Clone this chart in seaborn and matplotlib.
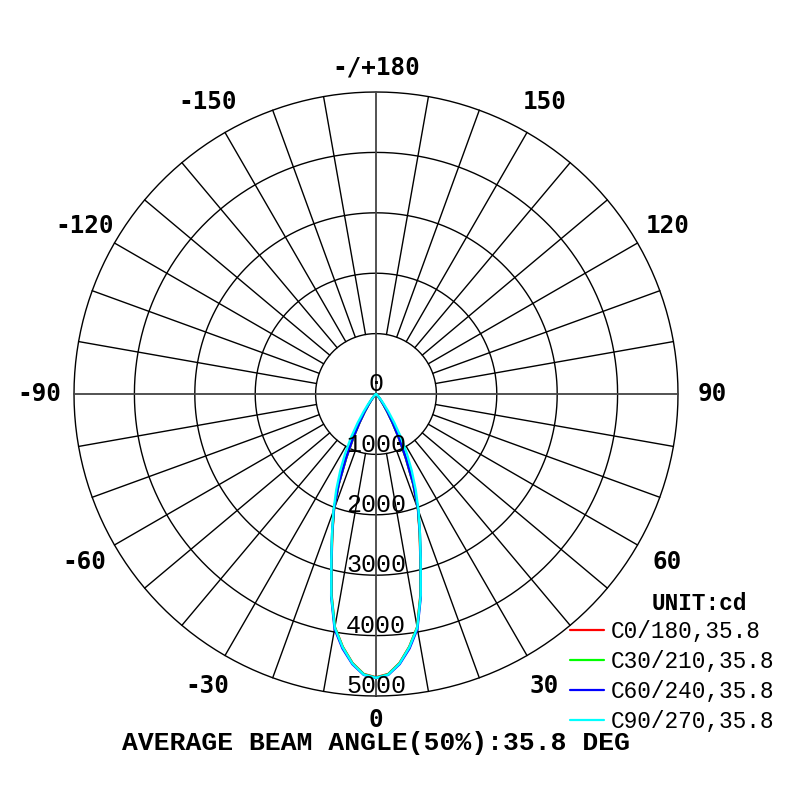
import numpy as np
import pandas as pd
import seaborn as sns
import matplotlib.pyplot as plt

# luminous intensity (cd) per C-plane, gamma in degrees
gamma = [0, 2.5, 5, 7.5, 10, 12.5, 15, 17.5, 20, 22.5, 25, 27.5, 30,
         32.5, 35, 37.5, 40, 45, 50, 60, 70, 80, 90]
c0 = [4690, 4640, 4470, 4220, 3920, 3400, 2840, 2400, 2030, 1610, 1160, 810, 540,
      350, 215, 130, 78, 27, 8, 0, 0, 0, 0]
c30 = [4695, 4645, 4475, 4225, 3925, 3410, 2850, 2410, 2035, 1615, 1170, 820, 545,
       352, 218, 132, 79, 28, 8, 0, 0, 0, 0]
c60 = [4700, 4655, 4490, 4250, 3950, 3430, 2860, 2415, 2040, 1620, 1180, 830, 550,
       355, 220, 134, 80, 28, 9, 0, 0, 0, 0]
c90 = [4700, 4650, 4480, 4230, 3930, 3420, 2860, 2420, 2060, 1720, 1400, 1100, 820,
       560, 360, 220, 130, 45, 15, 0, 0, 0, 0]

planes = ['C0/180,35.8', 'C30/210,35.8', 'C60/240,35.8', 'C90/270,35.8']
colors = ['#ff0000', '#00ff00', '#0000ff', '#00ffff']
rings = [1000, 2000, 3000, 4000, 5000]
ring_labels = ['0', '1000', '2000', '3000', '4000', '5000']
angle_ticks = [0, 30, 60, 90, 120, 150, 180, -150, -120, -90, -60, -30]
angle_labels = ['0', '30', '60', '90', '120', '150', '-/+180',
                '-150', '-120', '-90', '-60', '-30']

# build a long table, mirror each half-plane to the other side
rows = []
for name, vals in zip(planes, [c0, c30, c60, c90]):
    th = [-g for g in gamma[::-1]] + gamma
    rr = vals[::-1] + vals
    for t, r in zip(th, rr):
        rows.append({'plane': name, 'theta': np.deg2rad(t), 'cd': r})
df = pd.DataFrame(rows)

sns.set_style('white')
plt.rcParams['font.family'] = ['Liberation Mono', 'DejaVu Sans Mono']
plt.rcParams['text.color'] = 'black'

fig = plt.figure(figsize=(8, 8), dpi=100)
ax = fig.add_axes([0.0925, 0.13, 0.755, 0.755], projection='polar')
ax.set_theta_zero_location('S')
ax.set_theta_direction(1)
ax.set_ylim(0, 5000)
ax.set_xticks([])
ax.set_yticks([])
ax.grid(False)
ax.spines['polar'].set_visible(False)

# grid: rings, spokes from the inner ring, main axes through the centre
full = np.linspace(0, 2 * np.pi, 361)
for r in rings:
    ax.plot(full, [r] * len(full), color='black', lw=1.0, zorder=1, clip_on=False)
for a in range(0, 360, 10):
    t = np.deg2rad(a)
    if a % 90 == 0:
        ax.plot([t, t], [0, 5000], color='#444444', lw=1.3, zorder=1, clip_on=False)
    else:
        ax.plot([t, t], [1000, 5000], color='black', lw=1.0, zorder=1, clip_on=False)

sns.lineplot(data=df, x='theta', y='cd', hue='plane', hue_order=planes,
             palette=dict(zip(planes, colors)), sort=False, estimator=None,
             units='plane', lw=1.7, ax=ax, zorder=3)
ax.set_xlabel('')
ax.set_ylabel('')

# radial labels along the 0 deg axis
for lbl, r in zip(ring_labels, [0] + rings):
    ax.annotate(lbl, (0, r), xytext=(0, 2), textcoords='offset points',
                ha='center', va='baseline', fontsize=18, zorder=4)

# angle labels around the outside
for a, lbl in zip(angle_ticks, angle_labels):
    rr = 5000 * (1.08 if a in (0, 180) else 1.115)
    ax.text(np.deg2rad(a), rr, lbl, ha='center', va='center', fontsize=17.5,
            family='DejaVu Sans Mono', fontweight='bold')

sns.move_legend(ax, 'upper left', bbox_to_anchor=(570 / 800, 1 - 620 / 800),
                bbox_transform=fig.transFigure, frameon=False, title=None,
                fontsize=16.4, handlelength=1.5, handletextpad=0.3,
                labelspacing=0.3, borderpad=0, borderaxespad=0)
for line in ax.get_legend().get_lines():
    line.set_linewidth(1.6)

fig.text(699 / 800, 1 - 603 / 800, 'UNIT:cd', ha='center', va='center',
         fontsize=16.4, fontweight='bold')
fig.text(376 / 800, 1 - 743 / 800, 'AVERAGE BEAM ANGLE(50%):35.8 DEG',
         ha='center', va='center', fontsize=19, fontweight='bold')

fig.savefig('out.png', dpi=100, facecolor='white')
